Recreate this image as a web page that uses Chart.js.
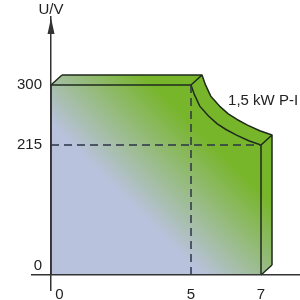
<!DOCTYPE html>
<html>
<head>
<meta charset="utf-8">
<script src="https://cdn.jsdelivr.net/npm/chart.js@4/dist/chart.umd.min.js"></script>
<style>
  html, body { margin: 0; padding: 0; background: #fff; }
  canvas { display: block; }
</style>
</head>
<body>
<canvas id="chart" width="300" height="300"></canvas>
<script>
// tick values on both axes
const uTicks = [0, 215, 300];
const iTicks = [0, 5, 7];

// outline of the operating area (current in A, voltage in V)
const shapeI = [0, 0, 5, 5.1, 5.25, 5.5, 5.75, 6, 6.3, 6.65, 7, 7];
const shapeU = [0, 300, 300, 286, 270, 256, 245, 237, 229, 221, 215, 0];

// dashed guide lines
const ratedI = [5, 5];
const ratedU = [0, 300];
const limitI = [0, 7];
const limitU = [215, 215];

const axisTitle = 'U/V';
const curveLabel = '1,5 kW P-I';
const curveLabelAt = [6.06, 277];

const axisColor = '#333333';
const edgeColor = '#1f2a1c';
const dashColor = '#2b3347';

Chart.defaults.font.family = '"Liberation Sans", Arial, sans-serif';
Chart.defaults.font.size = 15;
Chart.defaults.color = '#222222';

// linear scale that is stretched piecewise, the sketch is not to scale
class PiecewiseScale extends Chart.LinearScale {
    static id = 'piecewise';
    static defaults = {};
    getPixelForValue(value) {
        const stops = this.options.stops, at = this.options.at;
        let i = 1;
        while (i < stops.length - 1 && value > stops[i]) i++;
        const t = (value - stops[i - 1]) / (stops[i] - stops[i - 1]);
        return this.getPixelForDecimal(at[i - 1] + t * (at[i] - at[i - 1]));
    }
    getValueForPixel(pixel) {
        const d = this.getDecimalForPixel(pixel);
        const stops = this.options.stops, at = this.options.at;
        let i = 1;
        while (i < at.length - 1 && d > at[i]) i++;
        const t = (d - at[i - 1]) / (at[i] - at[i - 1]);
        return stops[i - 1] + t * (stops[i] - stops[i - 1]);
    }
    // a y axis placed at a value ignores ticks.padding, so push the labels off the line
    _computeLabelItems(chartArea) {
        const items = super._computeLabelItems(chartArea);
        if (!this.isHorizontal()) {
            const pad = this.options.ticks.padding;
            items.forEach(item => { item.options.translation[0] -= pad; });
        }
        return items;
    }
}
Chart.register(PiecewiseScale);

function faceGradient(chart) {
    const area = chart.chartArea;
    if (!area) return '#9cbf80';
    const g = chart.ctx.createLinearGradient(area.left + 18, area.top + 106, area.left + 89, area.top + 35);
    g.addColorStop(0, '#b9c2dd');
    g.addColorStop(1, '#77b52a');
    return g;
}

function toPoints(xs, ys) {
    return xs.map((x, i) => ({ x, y: ys[i] }));
}

function isCorner(pts, i) {
    const prev = pts[(i - 1 + pts.length) % pts.length];
    const next = pts[(i + 1) % pts.length];
    const a1 = Math.atan2(pts[i].y - prev.y, pts[i].x - prev.x);
    const a2 = Math.atan2(next.y - pts[i].y, next.x - pts[i].x);
    let d = Math.abs(a2 - a1);
    if (d > Math.PI) d = 2 * Math.PI - d;
    return d > 0.6;
}

// draws the depth of the block behind the front face
const extrude = {
    id: 'extrude',
    beforeDatasetDraw(chart, args, opts) {
        if (args.index !== 0) return;
        const pts = args.meta.data.map(p => ({ x: p.x, y: p.y }));
        const ctx = chart.ctx;
        const dx = opts.dx, dy = opts.dy;
        ctx.save();
        ctx.fillStyle = faceGradient(chart);
        const steps = Math.ceil(Math.max(Math.abs(dx), Math.abs(dy)));
        for (let s = 1; s <= steps; s++) {
            const ox = dx * s / steps, oy = dy * s / steps;
            ctx.beginPath();
            pts.forEach((p, i) => i ? ctx.lineTo(p.x + ox, p.y + oy) : ctx.moveTo(p.x + ox, p.y + oy));
            ctx.closePath();
            ctx.fill();
        }
        ctx.strokeStyle = edgeColor;
        ctx.lineWidth = 1.5;
        ctx.lineJoin = 'round';
        ctx.beginPath();
        for (let i = 1; i < pts.length; i++) {
            const p = pts[i];
            if (i === 1) ctx.moveTo(p.x + dx, p.y + dy);
            else ctx.lineTo(p.x + dx, p.y + dy);
        }
        for (let i = 1; i < pts.length; i++) {
            if (!isCorner(pts, i)) continue;
            ctx.moveTo(pts[i].x, pts[i].y);
            ctx.lineTo(pts[i].x + dx, pts[i].y + dy);
        }
        ctx.stroke();
        ctx.restore();
    }
};

// axis arrow, axis title and curve label
const decor = {
    id: 'decor',
    afterDraw(chart) {
        const { ctx, chartArea, scales: { x, y } } = chart;
        const ax = x.getPixelForValue(0);
        ctx.save();
        ctx.fillStyle = axisColor;
        ctx.beginPath();
        ctx.moveTo(ax, chartArea.top + 1);
        ctx.lineTo(ax - 3.5, chartArea.top + 17);
        ctx.lineTo(ax + 3.5, chartArea.top + 17);
        ctx.closePath();
        ctx.fill();

        ctx.fillStyle = '#222222';
        ctx.font = '15px "Liberation Sans", Arial, sans-serif';
        ctx.textAlign = 'center';
        ctx.textBaseline = 'alphabetic';
        ctx.fillText(axisTitle, ax, chartArea.top - 3.5);

        ctx.textAlign = 'left';
        ctx.textBaseline = 'middle';
        ctx.fillText(curveLabel, x.getPixelForValue(curveLabelAt[0]), y.getPixelForValue(curveLabelAt[1]));
        ctx.restore();
    }
};

function noPadding(scale) {
    scale.paddingTop = 0;
    scale.paddingBottom = 0;
    scale.paddingLeft = 0;
    scale.paddingRight = 0;
}

new Chart(document.getElementById('chart'), {
    type: 'line',
    data: {
        datasets: [
            {
                data: toPoints(shapeI, shapeU),
                fill: 'origin',
                backgroundColor: (c) => faceGradient(c.chart),
                borderColor: edgeColor,
                borderWidth: 1.5,
                pointRadius: 0,
                tension: 0,
                order: 2
            },
            {
                data: toPoints(limitI, limitU),
                borderColor: dashColor,
                borderWidth: 1.5,
                borderDash: [8, 5],
                pointRadius: 0,
                fill: false,
                order: 1
            },
            {
                data: toPoints(ratedI, ratedU),
                borderColor: dashColor,
                borderWidth: 1.5,
                borderDash: [8, 5],
                pointRadius: 0,
                fill: false,
                order: 1
            }
        ]
    },
    options: {
        responsive: false,
        animation: false,
        layout: { padding: { left: 32, top: 17, right: 0, bottom: 10 } },
        plugins: {
            legend: { display: false },
            tooltip: { enabled: false },
            extrude: { dx: 11, dy: -10 }
        },
        scales: {
            x: {
                type: 'piecewise',
                stops: iTicks,
                at: [0.0709, 0.5933, 0.8545],
                position: { y: 0 },
                grid: { display: false },
                border: { color: axisColor, width: 1.5, z: 1 },
                ticks: {
                    padding: 3,
                    autoSkip: false,
                    maxRotation: 0,
                    callback: (v) => v === 0 ? '    0' : String(v)
                },
                afterBuildTicks: (s) => { s.ticks = iTicks.map(value => ({ value })); },
                afterFit: noPadding
            },
            y: {
                type: 'piecewise',
                stops: uTicks,
                at: [0.0549, 0.5311, 0.7509],
                position: { x: 0 },
                grid: { display: false },
                border: { color: axisColor, width: 1.5, z: 1 },
                ticks: {
                    padding: 9,
                    autoSkip: false,
                    callback: (v) => v === 0 ? ['0', ''] : String(v)
                },
                afterBuildTicks: (s) => { s.ticks = uTicks.map(value => ({ value })); },
                afterFit: noPadding
            }
        }
    },
    plugins: [extrude, decor]
});
</script>
</body>
</html>
